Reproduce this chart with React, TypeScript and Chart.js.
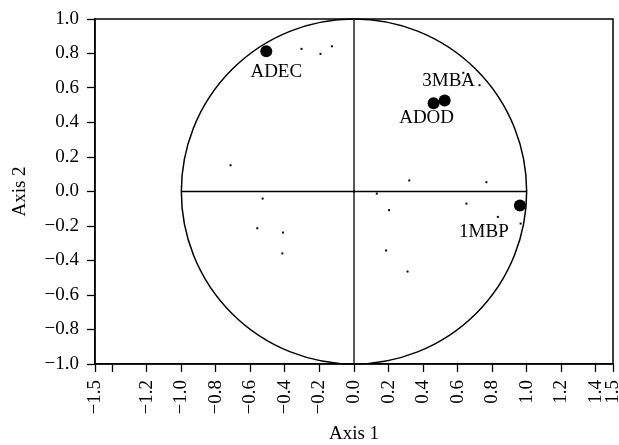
import { useEffect, useRef } from 'react';
import { Chart, registerables } from 'chart.js';

Chart.register(...registerables);

// Major loadings (labelled, large dots)
const loadingNames = ['ADEC', '3MBA', 'ADOD', '1MBP'];
const loadingAxis1 = [-0.508, 0.525, 0.461, 0.961];
const loadingAxis2 = [0.813, 0.528, 0.512, -0.081];

// Minor points (small dots)
const minorAxis1 = [-0.304, -0.194, -0.128, -0.715, -0.529, -0.56, -0.411, -0.415, 0.0, 0.132, 0.203, 0.186, 0.31, 0.32, 0.633, 0.727, 0.767, 0.651, 0.833, 0.965];
const minorAxis2 = [0.827, 0.798, 0.842, 0.152, -0.041, -0.213, -0.238, -0.359, 0.0, -0.012, -0.108, -0.342, -0.464, 0.064, 0.688, 0.616, 0.054, -0.07, -0.147, -0.186];

// Tick values and labels
const xTickValues = [-1.5, -1.4, -1.2, -1.0, -0.8, -0.6, -0.4, -0.2, 0.0, 0.2, 0.4, 0.6, 0.8, 1.0, 1.2, 1.4, 1.5];
const xTickLabels = ['\u22121.5', '', '\u22121.2', '\u22121.0', '\u22120.8', '\u22120.6', '\u22120.4', '\u22120.2', '0.0', '0.2', '0.4', '0.6', '0.8', '1.0', '1.2', '1.4', '1.5'];
const yTickValues = [-1.0, -0.8, -0.6, -0.4, -0.2, 0.0, 0.2, 0.4, 0.6, 0.8, 1.0];
const yTickLabels = ['\u22121.0', '\u22120.8', '\u22120.6', '\u22120.4', '\u22120.2', '0.0', '0.2', '0.4', '0.6', '0.8', '1.0'];

// Label pixel offsets (style, not data)
const labelOffsets = [[10, 21], [4, -19], [-7, 15], [-36, 27]];

const FONT = 'Liberation Serif';

const decorPlugin = {
  id: 'decor',
  beforeDatasetsDraw(chart: any) {
    const { ctx, chartArea } = chart;
    const xs = chart.scales.x;
    const ys = chart.scales.y;
    const cx = xs.getPixelForValue(0);
    const cy = ys.getPixelForValue(0);
    const rx = xs.getPixelForValue(1) - cx;
    const ry = cy - ys.getPixelForValue(1);
    ctx.save();
    ctx.strokeStyle = '#000';
    ctx.lineWidth = 1.5;
    ctx.strokeRect(chartArea.left, chartArea.top, chartArea.right - chartArea.left, chartArea.bottom - chartArea.top);
    ctx.beginPath();
    ctx.ellipse(cx, cy, rx, ry, 0, 0, Math.PI * 2);
    ctx.stroke();
    ctx.beginPath();
    ctx.moveTo(xs.getPixelForValue(-1), cy);
    ctx.lineTo(xs.getPixelForValue(1), cy);
    ctx.stroke();
    ctx.strokeStyle = '#222';
    ctx.beginPath();
    ctx.moveTo(cx, ys.getPixelForValue(1));
    ctx.lineTo(cx, ys.getPixelForValue(-1));
    ctx.stroke();
    ctx.restore();
  },
  afterDatasetsDraw(chart: any) {
    const { ctx } = chart;
    const xs = chart.scales.x;
    const ys = chart.scales.y;
    ctx.save();
    ctx.fillStyle = '#000';
    ctx.font = `19px "${FONT}"`;
    ctx.textAlign = 'center';
    ctx.textBaseline = 'middle';
    loadingNames.forEach((name, i) => {
      const px = xs.getPixelForValue(loadingAxis1[i]);
      const py = ys.getPixelForValue(loadingAxis2[i]);
      ctx.fillText(name, px + labelOffsets[i][0], py + labelOffsets[i][1]);
    });
    ctx.restore();
  },
};

export default function App() {
  const canvasRef = useRef<HTMLCanvasElement | null>(null);

  useEffect(() => {
    if (!canvasRef.current) return;
    const chart = new Chart(canvasRef.current, {
      type: 'scatter',
      data: {
        datasets: [
          {
            label: 'minor',
            data: minorAxis1.map((x, i) => ({ x, y: minorAxis2[i] })),
            pointStyle: 'rect',
            pointRadius: 1.4,
            pointBorderWidth: 0,
            backgroundColor: '#000',
            borderColor: '#000',
          },
          {
            label: 'major',
            data: loadingAxis1.map((x, i) => ({ x, y: loadingAxis2[i] })),
            pointRadius: 6,
            pointBorderWidth: 0,
            backgroundColor: '#000',
            borderColor: '#000',
          },
        ],
      },
      options: {
        animation: false,
        responsive: true,
        maintainAspectRatio: false,
        layout: { padding: { left: 0, right: 5, top: 19, bottom: 0 } },
        plugins: { legend: { display: false }, tooltip: { enabled: false } },
        scales: {
          x: {
            type: 'linear',
            min: -1.5,
            max: 1.5,
            afterBuildTicks: (s: any) => {
              s.ticks = xTickValues.map((v) => ({ value: v }));
            },
            afterFit: (s: any) => {
              s.height = 81;
              s.paddingLeft = 0;
              s.paddingRight = 0;
            },
            ticks: {
              autoSkip: false,
              minRotation: 90,
              maxRotation: 90,
              padding: 8,
              color: '#000',
              font: { family: FONT, size: 19 },
              callback: (_v: any, i: number) => xTickLabels[i],
            },
            grid: { display: true, drawOnChartArea: false, drawTicks: true, tickLength: 8, tickColor: '#000', tickWidth: 1.3 },
            border: { display: true, color: '#000', width: 1.5 },
            title: { display: true, text: 'Axis 1', color: '#000', font: { family: FONT, size: 19 }, padding: { top: 0, bottom: 0 } },
          },
          y: {
            type: 'linear',
            min: -1,
            max: 1,
            afterBuildTicks: (s: any) => {
              s.ticks = yTickValues.map((v) => ({ value: v }));
            },
            afterFit: (s: any) => {
              s.width = 95;
              s.paddingTop = 0;
              s.paddingBottom = 0;
            },
            ticks: {
              autoSkip: false,
              padding: 8,
              color: '#000',
              font: { family: FONT, size: 19 },
              callback: (_v: any, i: number) => yTickLabels[i],
            },
            grid: { display: true, drawOnChartArea: false, drawTicks: true, tickLength: 8, tickColor: '#000', tickWidth: 1.3 },
            border: { display: true, color: '#000', width: 1.5 },
            title: { display: true, text: 'Axis 2', color: '#000', font: { family: FONT, size: 19 }, padding: { top: 9, bottom: 0 } },
          },
        },
      },
      plugins: [decorPlugin],
    });
    return () => chart.destroy();
  }, []);

  return (
    <div style={{ position: 'absolute', left: 0, top: 0, width: 619, height: 445, background: '#fff' }}>
      <canvas ref={canvasRef} />
    </div>
  );
}
